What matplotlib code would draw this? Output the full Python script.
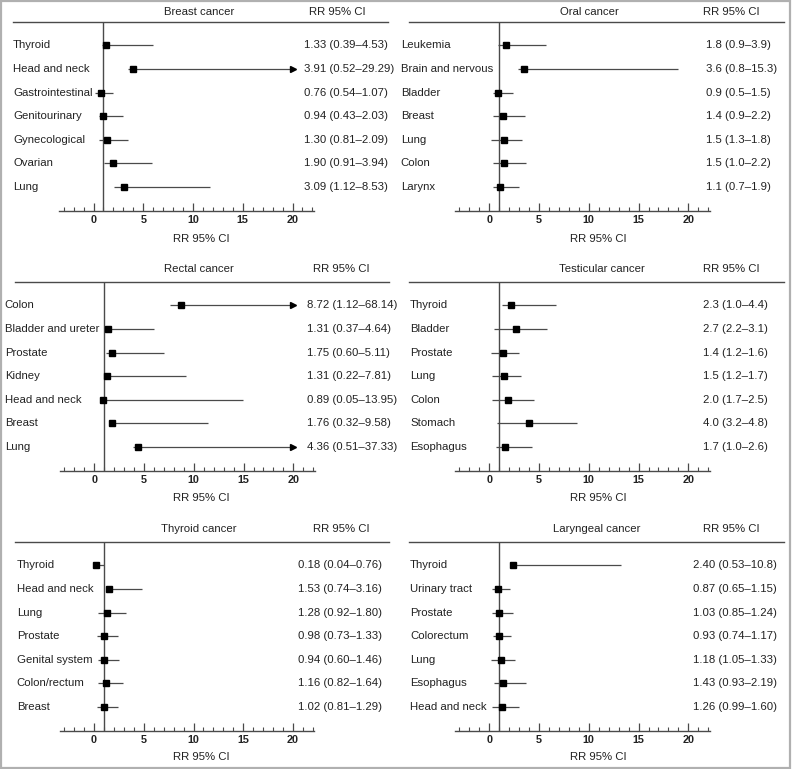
import matplotlib
matplotlib.use("Agg")
import matplotlib.pyplot as plt
from matplotlib.transforms import blended_transform_factory
from matplotlib.lines import Line2D
from matplotlib.patches import Rectangle
from matplotlib.ticker import MultipleLocator, FixedLocator

plt.rcParams['font.family'] = ['Liberation Sans', 'DejaVu Sans']

# ---------------- data ----------------
breast_cats = ["Thyroid", "Head and neck", "Gastrointestinal", "Genitourinary",
               "Gynecological", "Ovarian", "Lung"]
breast_est = [1.28, 3.93, 0.77, 0.97, 1.31, 1.91, 3.09]
breast_lo = [0.9, 3.46, 0.2, 0.6, 0.54, 1.1, 2.05]
breast_hi = [5.94, 20.0, 1.91, 3.0, 3.46, 5.87, 11.7]
breast_txt = ["1.33 (0.39\u20134.53)", "3.91 (0.52\u201329.29)", "0.76 (0.54\u20131.07)",
              "0.94 (0.43\u20132.03)", "1.30 (0.81\u20132.09)", "1.90 (0.91\u20133.94)",
              "3.09 (1.12\u20138.53)"]

oral_cats = ["Leukemia", "Brain and nervous", "Bladder", "Breast", "Lung", "Colon", "Larynx"]
oral_est = [1.71, 3.52, 0.84, 1.34, 1.44, 1.44, 1.07]
oral_lo = [0.84, 2.9, 0.34, 0.4, 0.17, 0.4, 0.34]
oral_hi = [5.74, 18.96, 2.4, 3.56, 3.26, 3.7, 3.0]
oral_txt = ["1.8 (0.9\u20133.9)", "3.6 (0.8\u201315.3)", "0.9 (0.5\u20131.5)", "1.4 (0.9\u20132.2)",
            "1.5 (1.3\u20131.8)", "1.5 (1.0\u20132.2)", "1.1 (0.7\u20131.9)"]

rectal_cats = ["Colon", "Bladder and ureter", "Prostate", "Kidney", "Head and neck",
               "Breast", "Lung"]
rectal_est = [8.74, 1.34, 1.75, 1.31, 0.9, 1.78, 4.37]
rectal_lo = [7.63, 1.2, 1.2, 1.1, 0.74, 1.5, 3.9]
rectal_hi = [20.0, 6.0, 6.96, 9.2, 14.96, 11.46, 20.0]
rectal_txt = ["8.72 (1.12\u201368.14)", "1.31 (0.37\u20134.64)", "1.75 (0.60\u20135.11)",
              "1.31 (0.22\u20137.81)", "0.89 (0.05\u201313.95)", "1.76 (0.32\u20139.58)",
              "4.36 (0.51\u201337.33)"]

testis_cats = ["Thyroid", "Bladder", "Prostate", "Lung", "Colon", "Stomach", "Esophagus"]
testis_est = [2.21, 2.65, 1.34, 1.44, 1.91, 3.96, 1.57]
testis_lo = [1.27, 0.44, 0.17, 0.27, 0.27, 0.77, 0.67]
testis_hi = [6.7, 5.83, 3.0, 3.18, 4.46, 8.8, 4.3]
testis_txt = ["2.3 (1.0\u20134.4)", "2.7 (2.2\u20133.1)", "1.4 (1.2\u20131.6)", "1.5 (1.2\u20131.7)",
              "2.0 (1.7\u20132.5)", "4.0 (3.2\u20134.8)", "1.7 (1.0\u20132.6)"]

thyroid_cats = ["Thyroid", "Head and neck", "Lung", "Prostate", "Genital system",
                "Colon/rectum", "Breast"]
thyroid_est = [0.2, 1.54, 1.28, 1.0, 1.0, 1.2, 1.04]
thyroid_lo = [0.05, 1.2, 0.44, 0.27, 0.37, 0.37, 0.27]
thyroid_hi = [1.04, 4.8, 3.19, 2.38, 2.48, 2.89, 2.38]
thyroid_txt = ["0.18 (0.04\u20130.76)", "1.53 (0.74\u20133.16)", "1.28 (0.92\u20131.80)",
               "0.98 (0.73\u20131.33)", "0.94 (0.60\u20131.46)", "1.16 (0.82\u20131.64)",
               "1.02 (0.81\u20131.29)"]

larynx_cats = ["Thyroid", "Urinary tract", "Prostate", "Colorectum", "Lung", "Esophagus",
               "Head and neck"]
larynx_est = [2.41, 0.84, 1.0, 0.94, 1.17, 1.4, 1.24]
larynx_lo = [2.07, 0.27, 0.27, 0.33, 0.17, 0.5, 0.27]
larynx_hi = [13.25, 2.07, 2.34, 2.17, 2.58, 3.68, 2.94]
larynx_txt = ["2.40 (0.53\u201310.8)", "0.87 (0.65\u20131.15)", "1.03 (0.85\u20131.24)",
              "0.93 (0.74\u20131.17)", "1.18 (1.05\u20131.33)", "1.43 (0.93\u20132.19)",
              "1.26 (0.99\u20131.60)"]

panel_titles = ["Breast cancer", "Oral cancer", "Rectal cancer", "Testicular cancer",
                "Thyroid cancer", "Laryngeal cancer"]
major_ticks = [0, 5, 10, 15, 20]
x_label = "RR 95% CI"
col_header = "RR 95% CI"

panels = [
    (breast_cats, breast_est, breast_lo, breast_hi, breast_txt),
    (oral_cats, oral_est, oral_lo, oral_hi, oral_txt),
    (rectal_cats, rectal_est, rectal_lo, rectal_hi, rectal_txt),
    (testis_cats, testis_est, testis_lo, testis_hi, testis_txt),
    (thyroid_cats, thyroid_est, thyroid_lo, thyroid_hi, thyroid_txt),
    (larynx_cats, larynx_est, larynx_lo, larynx_hi, larynx_txt),
]

# ---------------- layout (pixels) ----------------
W, H = 792, 769
fig = plt.figure(figsize=(W / 100, H / 100), dpi=100)

def fx(px):
    return px / W

def fy(py):
    return 1 - py / H

S = 9.95                  # px per RR unit
XL = (-3.45, 22.15)
zero_px = [93.5, 489.3, 94.3, 489.3, 94.0, 489.3]
header_y = [21.7, 21.7, 281.7, 281.7, 541.7, 541.7]
axis_y = [210.7, 210.7, 470.7, 470.7, 730.7, 730.7]
title_y = [11.7, 11.7, 269.3, 269.3, 529.3, 529.3]
title_x = [199, 589, 199, 602, 199, 597]
rr_x = [337, 731, 341, 731, 341, 731]
xlabel_y = [239, 239, 498, 498, 757, 757]
xlabel_x = [201.7, 598, 201.7, 598, 201.7, 598]
label_x = [13, 400.7, 4.7, 410, 16.7, 410]
value_x = [304, 706, 307, 702.7, 297.7, 692.7]
hline_x = [(13, 388), (409, 784), (15, 389), (409, 784), (15, 389), (409, 784)]

TXT = '#222222'
LINE = '#4a4a4a'
FS = 8.2

for i, (cats, est, lo, hi, txt) in enumerate(panels):
    left = zero_px[i] + XL[0] * S
    right = zero_px[i] + XL[1] * S
    ax = fig.add_axes([fx(left), fy(axis_y[i]), (right - left) / W,
                       (axis_y[i] - header_y[i]) / H])
    ax.set_xlim(*XL)
    ax.set_ylim(len(cats), -1)
    ax.patch.set_alpha(0)
    for sp in ['left', 'right', 'top']:
        ax.spines[sp].set_visible(False)
    ax.spines['bottom'].set_color(LINE)
    ax.spines['bottom'].set_linewidth(1.0)
    ax.set_yticks([])
    ax.xaxis.set_major_locator(FixedLocator(major_ticks))
    ax.xaxis.set_minor_locator(MultipleLocator(1))
    ax.tick_params(axis='x', which='major', direction='in', length=6, width=0.9,
                   color=LINE, pad=3, labelsize=7.8, labelcolor=TXT)
    ax.tick_params(axis='x', which='minor', direction='in', length=3, width=0.8,
                   color=LINE)
    for lab in ax.get_xticklabels():
        lab.set_fontweight('bold')

    ax.axvline(1, color=LINE, lw=1.0, zorder=1)
    rows = list(range(len(cats)))
    ax.hlines(rows, lo, hi, color=LINE, lw=0.9, zorder=2)
    ax.plot(est, rows, 's', color='black', ms=3.8, zorder=3)
    arrows_x = [h for h in hi if h >= 20]
    arrows_y = [r for r, h in zip(rows, hi) if h >= 20]
    if arrows_x:
        ax.plot(arrows_x, arrows_y, '>', color='black', ms=4.5, zorder=3,
                clip_on=False)

    tr = blended_transform_factory(fig.transFigure, ax.transData)
    for r, c, t in zip(rows, cats, txt):
        ax.text(fx(label_x[i]), r, c, transform=tr, ha='left', va='center',
                fontsize=FS, color=TXT, clip_on=False)
        ax.text(fx(value_x[i]), r, t, transform=tr, ha='left', va='center',
                fontsize=FS, color=TXT, clip_on=False)

    # header line, title and column header
    fig.add_artist(Line2D([fx(hline_x[i][0]), fx(hline_x[i][1])],
                          [fy(header_y[i]), fy(header_y[i])],
                          transform=fig.transFigure, color=LINE, lw=1.0))
    fig.text(fx(title_x[i]), fy(title_y[i]), panel_titles[i], ha='center',
             va='center', fontsize=FS, color=TXT)
    fig.text(fx(rr_x[i]), fy(title_y[i]), col_header, ha='center', va='center',
             fontsize=FS, color=TXT)
    fig.text(fx(xlabel_x[i]), fy(xlabel_y[i]), x_label, ha='center', va='center',
             fontsize=FS, color=TXT)

# outer frame
fig.add_artist(Rectangle((fx(1.2), fy(767.5)), fx(789.6) - fx(1.2),
                         fy(0.6) - fy(767.5), transform=fig.transFigure,
                         fill=False, edgecolor='#b0b0b0', lw=1.6))

fig.savefig("out.png", dpi=100)
